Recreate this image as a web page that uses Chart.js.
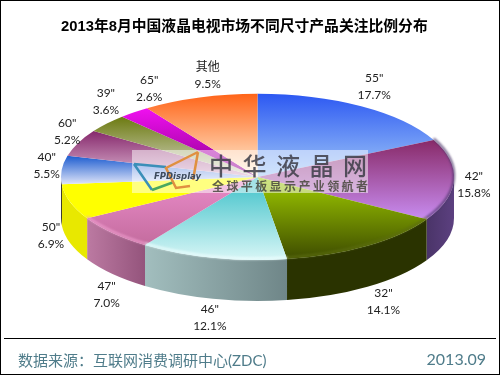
<!DOCTYPE html>
<html>
<head>
<meta charset="utf-8">
<style>
html, body { margin: 0; padding: 0; background: #fff; }
canvas { display: block; }
</style>
<script src="https://cdn.jsdelivr.net/npm/chart.js@4"></script>
</head>
<body>
<canvas id="pieChart" width="500" height="375"></canvas>
<script>
const sizes = ['55"', '42"', '32"', '46"', '47"', '50"', '40"', '60"', '39"', '65"', '其他'];
const shares = [17.7, 15.8, 14.1, 12.1, 7.0, 6.9, 5.5, 5.2, 3.6, 2.6, 9.5];

// top face: colour at the top and at the bottom of each slice
const topColors = ['#2c58f2', '#882a68', '#a0cc00', '#3cc0c8', '#ea8cca', '#ffff00', '#1c5cd0', '#86286c', '#6c7a10', '#f010f0', '#ff6418'];
const bottomColors = ['#a0c8f8', '#c88cf0', '#3e4c00', '#d8f6f6', '#c46c9e', '#ffff00', '#dfe4f8', '#dcb4d0', '#dcdcd0', '#8c008c', '#fff4dc'];
// side wall: colour on the left and on the right of each slice
const wallLeft = ['#000', '#4a3468', '#2a3300', '#a2bebe', '#bc7aa2', '#e8e800', '#000', '#000', '#000', '#000', '#000'];
const wallRight = ['#000', '#5c4080', '#2a3300', '#6f8688', '#94547c', '#e8e800', '#000', '#000', '#000', '#000', '#000'];
const rimColors = [null, '#4a3468', '#5c6e10', '#eefdfd', '#f0a0d0', null, null, null, null, null, null];

// label nudges from the rim of the pie
const labelNudge = [[13, -20], [20, 5], [16, 15], [-3, 19], [-6, 21], [-19, -7], [-15, -4], [-11, -11], [-1, -22], [15, -24], [8, -22]];

const wallDepth = 41;
const labelFont = '12px Lato, "Noto Sans CJK SC", sans-serif';

// y range of a slice in the (still round) pie, for its gradient
function sliceGradient(chart, index) {
    const area = chart.chartArea;
    const total = shares.reduce((a, b) => a + b, 0);
    const before = shares.slice(0, index).reduce((a, b) => a + b, 0);
    const start = before / total * Math.PI * 2 - Math.PI / 2;
    const end = (before + shares[index]) / total * Math.PI * 2 - Math.PI / 2;
    const r = area.height / 2;
    const cy = (area.top + area.bottom) / 2;
    let lo = Math.min(0, Math.sin(start), Math.sin(end));
    let hi = Math.max(0, Math.sin(start), Math.sin(end));
    if (start < Math.PI / 2 && end > Math.PI / 2) hi = 1;
    if (start < Math.PI * 1.5 && end > Math.PI * 1.5) lo = -1;
    const g = chart.ctx.createLinearGradient(0, cy + lo * r, 0, cy + hi * r);
    g.addColorStop(0, topColors[index]);
    g.addColorStop(1, bottomColors[index]);
    return g;
}

// squashes the round pie into the wide chart area and draws the walls below it
const tiltedPie = {
    id: 'tiltedPie',
    beforeDatasetsDraw(chart) {
        const ctx = chart.ctx;
        const area = chart.chartArea;
        const cx = (area.left + area.right) / 2;
        const cy = (area.top + area.bottom) / 2;
        const rx = area.width / 2;
        const ry = area.height / 2;

        chart.getDatasetMeta(0).data.forEach((arc, i) => {
            const a = Math.max(arc.startAngle, 0);
            const b = Math.min(arc.endAngle, Math.PI);
            if (b <= a) return;
            const x0 = cx + rx * Math.cos(a);
            const x1 = cx + rx * Math.cos(b);
            const g = ctx.createLinearGradient(x0, 0, x1, 0);
            g.addColorStop(0, wallRight[i]);
            g.addColorStop(1, wallLeft[i]);
            ctx.beginPath();
            ctx.ellipse(cx, cy, rx, ry, 0, a, b);
            ctx.ellipse(cx, cy + wallDepth, rx, ry, 0, b, a, true);
            ctx.closePath();
            ctx.fillStyle = g;
            ctx.fill();
        });

        ctx.save();
        ctx.translate(cx, cy);
        ctx.scale(rx / ry, 1);
        ctx.translate(-cx, -cy);
    },
    afterDatasetsDraw(chart) {
        const ctx = chart.ctx;
        ctx.restore();

        const area = chart.chartArea;
        const cx = (area.left + area.right) / 2;
        const cy = (area.top + area.bottom) / 2;
        const rx = area.width / 2;
        const ry = area.height / 2;
        const arcs = chart.getDatasetMeta(0).data;

        // soft bevel along the front rim
        arcs.forEach((arc, i) => {
            if (!rimColors[i]) return;
            ctx.save();
            ctx.beginPath();
            ctx.ellipse(cx, cy - 1.5, rx, ry, 0, arc.startAngle, arc.endAngle);
            ctx.strokeStyle = rimColors[i];
            ctx.globalAlpha = 0.75;
            ctx.lineWidth = 2.5;
            ctx.filter = 'blur(0.8px)';
            ctx.stroke();
            ctx.restore();
        });

        drawWatermark(ctx);

        // slice labels
        ctx.fillStyle = '#222';
        ctx.font = labelFont;
        ctx.textAlign = 'center';
        ctx.textBaseline = 'middle';
        arcs.forEach((arc, i) => {
            const mid = (arc.startAngle + arc.endAngle) / 2;
            const s = Math.sin(mid);
            const x = cx + rx * Math.cos(mid) + labelNudge[i][0];
            const y = cy + ry * s + (s > 0.3 ? wallDepth : 0) + labelNudge[i][1];
            ctx.fillText(sizes[i], x, y - 8.5);
            ctx.fillText(shares[i].toFixed(1) + '%', x, y + 8.5);
        });

        drawFrame(chart);
    }
};

function drawWatermark(ctx) {
    ctx.save();
    ctx.fillStyle = 'rgba(255,255,255,0.5)';
    ctx.fillRect(132, 150, 236, 43);

    // logo
    ctx.lineWidth = 2.5;
    ctx.strokeStyle = '#3a8fb8';
    ctx.beginPath();
    ctx.moveTo(134, 164);
    ctx.lineTo(166, 167);
    ctx.moveTo(134, 164);
    ctx.lineTo(152, 190);
    ctx.stroke();
    ctx.strokeStyle = '#4aa860';
    ctx.beginPath();
    ctx.moveTo(152, 190);
    ctx.lineTo(174, 182);
    ctx.stroke();
    ctx.strokeStyle = '#e09040';
    ctx.beginPath();
    ctx.moveTo(198, 152);
    ctx.lineTo(166, 168);
    ctx.lineTo(176, 188);
    ctx.lineTo(190, 186);
    ctx.moveTo(198, 152);
    ctx.lineTo(193, 180);
    ctx.stroke();

    ctx.textBaseline = 'middle';
    ctx.textAlign = 'left';
    ctx.fillStyle = '#3c4a5c';
    ctx.font = 'italic bold 8.5px "DejaVu Sans", sans-serif';
    ctx.fillText('FPDisplay', 154, 177);

    ctx.fillStyle = 'rgba(60,60,70,0.85)';
    ctx.font = '500 24px "Noto Sans CJK SC", sans-serif';
    ctx.letterSpacing = '9.5px';
    ctx.fillText('中华液晶网', 209, 166);
    ctx.fillStyle = 'rgba(70,70,60,0.85)';
    ctx.font = 'bold 12px "Noto Sans CJK SC", sans-serif';
    ctx.letterSpacing = '2.4px';
    ctx.fillText('全球平板显示产业领航者', 212, 186);
    ctx.restore();
}

function drawFrame(chart) {
    const ctx = chart.ctx;
    ctx.save();
    ctx.strokeStyle = '#000';
    ctx.lineWidth = 1;
    ctx.strokeRect(0.5, 0.5, 499, 374);
    ctx.beginPath();
    ctx.moveTo(4, 338.5);
    ctx.lineTo(496, 338.5);
    ctx.stroke();

    ctx.fillStyle = '#4f7c8a';
    ctx.textBaseline = 'middle';
    ctx.textAlign = 'left';
    ctx.font = '15px Lato, "Noto Sans CJK SC", sans-serif';
    ctx.fillText('数据来源：', 18, 361);
    ctx.fillText('互联网消费调研中心(ZDC)', 93, 361);
    ctx.textAlign = 'right';
    ctx.font = '16px Lato, sans-serif';
    ctx.fillText('2013.09', 486, 360);
    ctx.restore();
}

new Chart(document.getElementById('pieChart'), {
    type: 'pie',
    plugins: [tiltedPie],
    data: {
        labels: sizes,
        datasets: [{
            data: shares,
            borderWidth: 0,
            backgroundColor: c => c.chart.chartArea ? sliceGradient(c.chart, c.dataIndex) : topColors[c.dataIndex]
        }]
    },
    options: {
        responsive: false,
        animation: false,
        events: [],
        layout: { padding: { top: 18, left: 61, right: 46, bottom: 115 } },
        plugins: {
            legend: { display: false },
            tooltip: { enabled: false },
            title: {
                display: true,
                text: '2013年8月中国液晶电视市场不同尺寸产品关注比例分布',
                color: '#000',
                align: 'start',
                font: { family: '"Liberation Sans", "Noto Sans CJK SC", sans-serif', size: 14.8, weight: 'bold' },
                padding: { top: 0, bottom: 58 }
            }
        }
    }
});
</script>
</body>
</html>
